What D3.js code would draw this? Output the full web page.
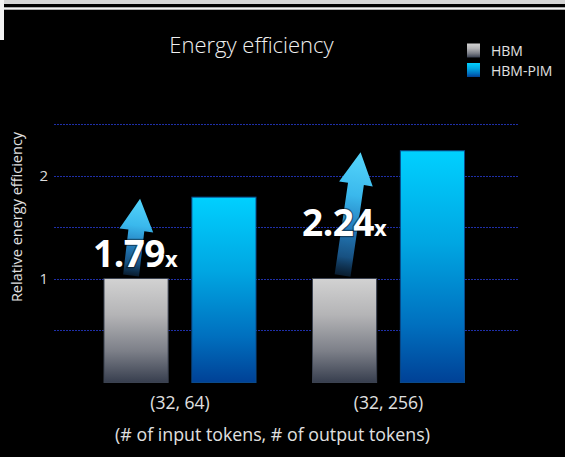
<!DOCTYPE html>
<html><head><meta charset="utf-8">
<script src="https://cdn.jsdelivr.net/npm/d3@7"></script>
<style>
html,body{margin:0;padding:0;background:#000;}
svg{display:block;font-family:"Open Sans","Noto Sans",sans-serif;}
</style></head>
<body>
<svg id="c" width="565" height="457"></svg>
<script>
const categories = ["(32, 64)", "(32, 256)"];
const series = ["HBM", "HBM-PIM"];
const hbmValues = [1, 1];
const pimValues = [1.79, 2.24];
const gainLabels = ["1.79", "2.24"];
const gridValues = [0.5, 1, 1.5, 2, 2.5];
const tickLabels = [1, 2];

const svg = d3.select("#c");
const W = 565, H = 457;
svg.append("rect").attr("width", W).attr("height", H).attr("fill", "#000");
// top frame bands
svg.append("rect").attr("x", 0).attr("y", 0).attr("width", W).attr("height", 4).attr("fill", "#d4d4d4");
svg.append("rect").attr("x", 0).attr("y", 7.3).attr("width", W).attr("height", 2.4).attr("fill", "#f2f2f2");
svg.append("rect").attr("x", 0).attr("y", 0).attr("width", 4).attr("height", 40).attr("fill", "#f2f2f2");

const defs = svg.append("defs");
function vgrad(id, stops) {
  const g = defs.append("linearGradient").attr("id", id).attr("x1", 0).attr("y1", 0).attr("x2", 0).attr("y2", 1);
  stops.forEach(s => g.append("stop").attr("offset", s[0]).attr("stop-color", s[1]).attr("stop-opacity", s[2] == null ? 1 : s[2]));
}
vgrad("gGray", [[0, "#d2d2d2"], [0.35, "#b4b4b6"], [0.7, "#7c7f88"], [1, "#373e4e"]]);
vgrad("gBlue", [[0, "#00d0ff"], [0.4, "#00a6e2"], [0.75, "#0070bf"], [1, "#004196"]]);

const x0 = d3.scaleBand().domain(categories).range([75.75, 492.75]).padding(0);
const x1 = d3.scaleBand().domain(series).range([28.25, 180.25]).paddingInner(0.27);
const y = d3.scaleLinear().domain([0, 2.5]).range([381.5, 124]);

// gridlines
svg.append("g").selectAll("line").data(gridValues).join("line")
  .attr("x1", 54).attr("x2", 519)
  .attr("y1", d => Math.round(y(d)) + 0.5).attr("y2", d => Math.round(y(d)) + 0.5)
  .attr("stroke", "#1f2fa8").attr("stroke-width", 1).attr("stroke-dasharray", "2,1");

// y axis tick labels
const yAxis = d3.axisLeft(y).tickValues(tickLabels).tickSize(0).tickPadding(0).tickFormat(d3.format("d"));
const ya = svg.append("g").attr("transform", "translate(48,0)").call(yAxis);
ya.select(".domain").remove();
ya.selectAll("text").attr("fill", "#dcdcdc").attr("font-size", 15).attr("font-family", "Open Sans, sans-serif").attr("dy", "0.35em");

svg.append("text").attr("transform", "translate(22,217) rotate(-90)")
  .attr("text-anchor", "middle").attr("fill", "#e0e0e0").attr("font-size", 14.5)
  .text("Relative energy efficiency");

// bars
const rows = categories.map((c, i) => ({cat: c, vals: [{s: series[0], v: hbmValues[i]}, {s: series[1], v: pimValues[i]}]}));
const grp = svg.append("g").selectAll("g").data(rows).join("g")
  .attr("transform", d => `translate(${x0(d.cat)},0)`);
grp.selectAll("rect").data(d => d.vals).join("rect")
  .attr("x", d => x1(d.s)).attr("width", x1.bandwidth())
  .attr("y", d => y(d.v)).attr("height", d => y(0) - y(d.v) + 1)
  .attr("fill", d => d.s === series[0] ? "url(#gGray)" : "url(#gBlue)")
  .attr("stroke", d => d.s === series[0] ? "#3b4250" : "#0a4a8a").attr("stroke-width", 1);

// arrows
const arrowOffsets = [[-5, 4], [-2, 16]]; // base dx, tip dx relative to gray bar center
rows.forEach((r, i) => {
  const cx = x0(r.cat) + x1(series[0]) + x1.bandwidth() / 2;
  const bx = cx + arrowOffsets[i][0], by = y(hbmValues[i]) - 3;
  const tx = cx + arrowOffsets[i][1], ty = y(pimValues[i]) + 1.5;
  const dx = tx - bx, dy = ty - by, L = Math.hypot(dx, dy);
  const ux = dx / L, uy = dy / L, px = -uy, py = ux;
  const headLen = 32, headW = 17, shaftW = 8;
  const hx = tx - ux * headLen, hy = ty - uy * headLen;
  const pts = [
    [bx + px * shaftW, by + py * shaftW],
    [hx + px * shaftW, hy + py * shaftW],
    [hx + px * headW, hy + py * headW],
    [tx, ty],
    [hx - px * headW, hy - py * headW],
    [hx - px * shaftW, hy - py * shaftW],
    [bx - px * shaftW, by - py * shaftW]
  ];
  const gid = "gArr" + i;
  const g = defs.append("linearGradient").attr("id", gid).attr("gradientUnits", "userSpaceOnUse")
    .attr("x1", tx).attr("y1", ty).attr("x2", bx).attr("y2", by);
  [[0, "#55d6fc", 1], [0.35, "#3ab8ec", 1], [0.6, "#2580c0", 1], [0.85, "#1a5a90", 0.9], [1, "#0f3050", 0.6]]
    .forEach(s => g.append("stop").attr("offset", s[0]).attr("stop-color", s[1]).attr("stop-opacity", s[2]));
  svg.append("path").attr("d", d3.line()(pts) + "Z").attr("fill", `url(#${gid})`);
});

// gain labels
const gainPos = [[93, 267], [302, 236]];
rows.forEach((r, i) => {
  const t = svg.append("text").attr("x", gainPos[i][0]).attr("y", gainPos[i][1])
    .attr("fill", "#fff").attr("font-weight", 700)
    .attr("stroke", "#000").attr("stroke-opacity", 0.45).attr("stroke-width", 2.5).attr("paint-order", "stroke")
    .attr("font-family", "Open Sans, sans-serif");
  t.append("tspan").attr("font-size", 37).attr("letter-spacing", -0.5).text(gainLabels[i]);
  t.append("tspan").attr("font-size", 22).text("x");
});

// x axis labels
const xAxis = d3.axisBottom(x0).tickSize(0).tickPadding(0);
const xa = svg.append("g").attr("transform", "translate(0,409)").call(xAxis);
xa.select(".domain").remove();
xa.selectAll("text").attr("fill", "#e0e0e0").attr("font-size", 17.5).attr("dy", 0).attr("font-family", "Open Sans, sans-serif");

svg.append("text").attr("x", 272.5).attr("y", 440.5).attr("text-anchor", "middle")
  .attr("fill", "#e0e0e0").attr("font-size", 17.8).text("(# of input tokens, # of output tokens)");

// title
svg.append("text").attr("x", 251.5).attr("y", 53).attr("text-anchor", "middle")
  .attr("fill", "#f0f0f0").attr("font-size", 22).attr("font-weight", 300).text("Energy efficiency");

// legend
const leg = svg.append("g").selectAll("g").data(series).join("g")
  .attr("transform", (d, i) => `translate(467,${43.5 + i * 19.5})`);
leg.append("rect").attr("width", 13).attr("height", 14)
  .attr("fill", (d, i) => i === 0 ? "url(#gGray)" : "url(#gBlue)");
leg.append("text").attr("x", 24).attr("y", 12.5).attr("fill", "#e0e0e0").attr("font-size", 14).text(d => d);
</script>
</body></html>
